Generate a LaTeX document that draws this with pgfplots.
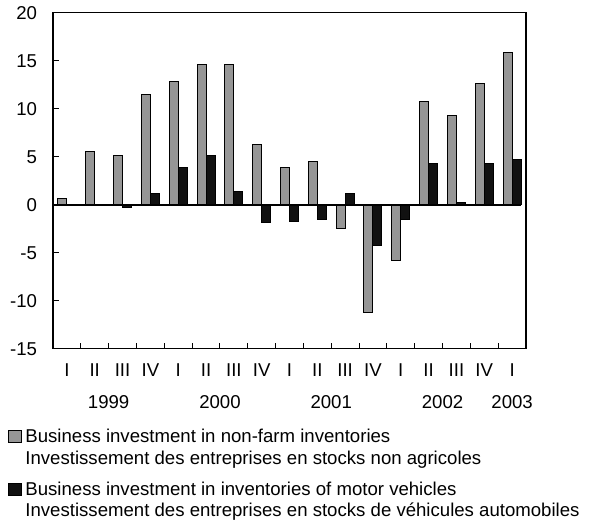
\documentclass[border=0pt]{standalone}
\usepackage{pgfplots}
\pgfplotsset{compat=1.18}
\usepackage{fontspec}
\setmainfont{Liberation Sans}
\definecolor{barGray}{RGB}{150,150,150}
\definecolor{barBlack}{RGB}{17,17,17}
\begin{document}
\fontsize{9.3pt}{11pt}\selectfont
\begin{tikzpicture}
\useasboundingbox (0,0) rectangle (299pt,-262.5pt);
\begin{axis}[
  at={(26.5pt,-6.35pt)}, anchor=north west, scale only axis,
  width=236.5pt, height=168pt,
  xmin=-0.5, xmax=16.5, ymin=-15, ymax=20,
  ytick={-15,-10,...,20},
  xtick={0,...,16},
  xticklabels={I,II,III,IV,I,II,III,IV,I,II,III,IV,I,II,III,IV,I},
  minor x tick num=1,
  major x tick style={draw=none},
  tick align=inside, xtick pos=bottom, ytick pos=left,
  axis line style={line width=0.6pt},
  tick style={black, line width=0.5pt},
  minor tick length=3pt, major tick length=2.8pt,
  yticklabel style={anchor=east, xshift=-4.7pt},
  xticklabel style={yshift=-4.1pt},
  /pgf/number format/assume math mode=true,
  clip=false,
]
\addplot[ybar, bar width=0.324, bar shift=-0.162, fill=barGray, draw=black, line width=0.5pt]
 coordinates {(0,0.6) (1,5.5) (2,5.1) (3,11.5) (4,12.8) (5,14.6) (6,14.6) (7,6.3) (8,3.9) (9,4.5) (10,-2.5) (11,-11.2) (12,-5.8) (13,10.7) (14,9.3) (15,12.6) (16,15.9)};
\addplot[ybar, bar width=0.324, bar shift=0.162, fill=barBlack, draw=black, line width=0.5pt]
 coordinates {(0,0) (1,0) (2,-0.3) (3,1.2) (4,3.9) (5,5.1) (6,1.4) (7,-1.9) (8,-1.7) (9,-1.5) (10,1.2) (11,-4.2) (12,-1.5) (13,4.3) (14,0.2) (15,4.3) (16,4.7)};
\draw[line width=1pt] (axis cs:-0.5,0) -- (axis cs:16.32,0);
\node[yshift=-26.75pt] at (axis cs:1.5,-15) {1999};
\node[yshift=-26.75pt] at (axis cs:5.5,-15) {2000};
\node[yshift=-26.75pt] at (axis cs:9.5,-15) {2001};
\node[yshift=-26.75pt] at (axis cs:13.5,-15) {2002};
\node[yshift=-26.75pt] at (axis cs:16,-15) {2003};
\end{axis}
\filldraw[fill=barGray, draw=black, line width=0.5pt] (4.2pt,-215pt) rectangle (10.8pt,-221.2pt);
\filldraw[fill=barBlack, draw=black, line width=0.5pt] (4.2pt,-241.5pt) rectangle (10.8pt,-247.7pt);
\node[anchor=base west, inner sep=0pt] at (12.5pt,-221.2pt) {Business investment in non-farm inventories};
\node[anchor=base west, inner sep=0pt] at (12.5pt,-232.1pt) {Investissement des entreprises en stocks non agricoles};
\node[anchor=base west, inner sep=0pt] at (12.5pt,-247.5pt) {Business investment in inventories of motor vehicles};
\node[anchor=base west, inner sep=0pt] at (12.5pt,-258.3pt) {Investissement des entreprises en stocks de véhicules automobiles};
\end{tikzpicture}
\end{document}
